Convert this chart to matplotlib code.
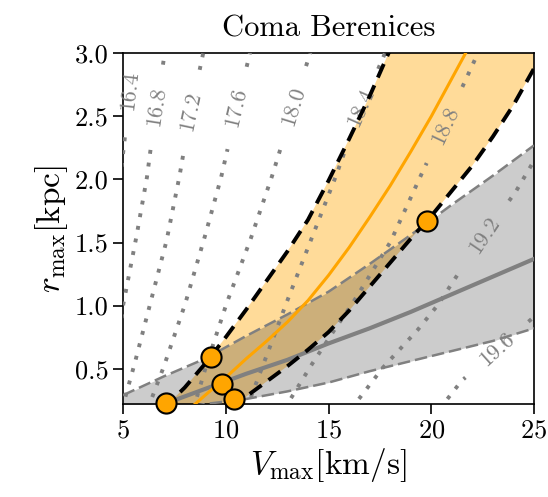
import numpy as np
import matplotlib
matplotlib.use("Agg")
from matplotlib import pyplot as plt

plt.rcParams['font.family'] = 'serif'
plt.rcParams['font.serif'] = ['cmr10']
plt.rcParams['mathtext.fontset'] = 'cm'
plt.rcParams['axes.formatter.use_mathtext'] = True

# orange band (data-driven rmax-Vmax relation)
orange_up_v = [7.0, 7.5, 8.0, 9.0, 10.0, 11.0, 12.0, 13.0, 14.0, 15.0, 16.0, 17.0, 18.0, 18.3]
orange_up_r = [0.18, 0.27, 0.35, 0.54, 0.75, 0.97, 1.20, 1.43, 1.68, 1.99, 2.32, 2.66, 3.03, 3.15]
orange_lo_v = [10.3, 11.0, 12.0, 13.0, 14.0, 15.0, 16.0, 17.0, 18.0, 19.0, 20.0, 21.0, 22.0, 23.0, 24.0, 25.0, 25.5]
orange_lo_r = [0.18, 0.28, 0.40, 0.52, 0.65, 0.79, 0.96, 1.15, 1.34, 1.53, 1.71, 1.91, 2.11, 2.34, 2.59, 2.88, 3.02]
orange_med_v = [8.3, 9.0, 10.0, 11.0, 12.0, 13.0, 14.0, 15.0, 16.0, 17.0, 18.0, 19.0, 20.0, 21.0, 22.0]
orange_med_r = [0.19, 0.29, 0.43, 0.58, 0.72, 0.87, 1.04, 1.24, 1.46, 1.70, 1.95, 2.22, 2.50, 2.80, 3.10]

# gray band
gray_v = [5, 7, 9, 11, 13, 15, 17, 19, 21, 23, 25]
gray_up_r = [0.29, 0.44, 0.58, 0.76, 0.93, 1.11, 1.33, 1.56, 1.80, 2.03, 2.27]
gray_lo_r = [0.13, 0.17, 0.22, 0.26, 0.32, 0.39, 0.48, 0.56, 0.64, 0.72, 0.82]
gray_med_r = [0.12, 0.22, 0.34, 0.46, 0.57, 0.70, 0.82, 0.95, 1.09, 1.23, 1.37]

# individual points
pts_v = [7.1, 9.3, 9.8, 10.4, 19.8]
pts_r = [0.23, 0.59, 0.38, 0.26, 1.67]

# dotted contours
contour_levels = ['16.4', '16.8', '17.2', '17.6', '18.0', '18.4', '18.8', '19.2', '19.6']
contour_v = [
    [4.85, 5.0, 5.2, 5.55, 5.62],
    [4.85, 5.0, 5.6, 6.15, 6.55, 7.03, 7.12],
    [4.95, 5.5, 6.3, 7.1, 7.72, 8.25, 8.9, 9.03],
    [6.2, 6.95, 8.0, 8.9, 9.75, 10.45, 11.17, 11.32],
    [8.42, 9.0, 10.0, 11.15, 12.2, 13.15, 14.1, 14.3],
    [11.0, 11.75, 12.9, 14.1, 15.3, 16.4, 17.75, 18.0],
    [12.85, 14.05, 15.25, 16.1, 18.0, 19.4, 20.85, 22.27, 22.55],
    [16.1, 17.6, 19.3, 20.3, 21.5, 22.75, 24.1, 25.0, 25.4],
    [20.4, 21.45, 23.2, 24.2, 25.0, 25.6],
]
contour_r = [
    [2.0, 2.2, 2.5, 3.0, 3.1],
    [0.8, 1.0, 1.5, 2.0, 2.5, 3.0, 3.1],
    [0.18, 0.5, 1.0, 1.5, 2.0, 2.5, 3.0, 3.1],
    [0.18, 0.5, 1.0, 1.5, 2.0, 2.5, 3.0, 3.1],
    [0.18, 0.5, 1.0, 1.5, 2.0, 2.5, 3.0, 3.1],
    [0.18, 0.5, 1.0, 1.5, 2.0, 2.5, 3.0, 3.1],
    [0.18, 0.5, 0.8, 1.0, 1.5, 2.0, 2.5, 3.0, 3.1],
    [0.18, 0.5, 0.8, 1.0, 1.3, 1.6, 1.9, 2.15, 2.25],
    [0.18, 0.4, 0.65, 0.8, 0.91, 1.0],
]
label_v = [5.34, 6.63, 8.3, 10.5, 13.3, 16.57, 20.66, 22.58, 23.2]
label_r = [2.70, 2.58, 2.54, 2.57, 2.58, 2.57, 2.43, 1.56, 0.65]


def dotted_contour(ax, vs, rs, lv, lr, text, gap=42):
    pix = ax.transData.transform(np.column_stack([vs, rs]))
    s = np.concatenate([[0], np.cumsum(np.hypot(*np.diff(pix, axis=0).T))])
    ss = np.linspace(0, s[-1], 800)
    dense = np.column_stack([np.interp(ss, s, pix[:, 0]), np.interp(ss, s, pix[:, 1])])
    c = ax.transData.transform((lv, lr))
    dist = np.hypot(*(dense - c).T)
    dd = ax.transData.inverted().transform(dense)
    x = np.where(dist > gap, dd[:, 0], np.nan)
    y = np.where(dist > gap, dd[:, 1], np.nan)
    ax.plot(x, y, color='gray', lw=2.8, dashes=(1, 2.3), zorder=3)
    i = np.argmin(dist)
    dx, dy = dense[min(i + 8, len(dense) - 1)] - dense[max(i - 8, 0)]
    ang = np.degrees(np.arctan2(dy, dx))
    if ang > 90:
        ang -= 180
    if ang < -90:
        ang += 180
    ax.text(lv, lr, text, rotation=ang, rotation_mode='anchor', ha='center', va='center',
            color='gray', fontsize=16, zorder=3)


fig = plt.figure(figsize=(5.48, 4.97), dpi=100)
ax = fig.add_axes([0.2245, 0.1871, 0.75, 0.7057])
ax.set_xlim(5, 25)
ax.set_ylim(0.22, 3.0)

# orange band
poly_v = np.concatenate([orange_up_v, orange_lo_v[::-1]])
poly_r = np.concatenate([orange_up_r, orange_lo_r[::-1]])
ax.fill(poly_v, poly_r, color='orange', alpha=0.4, lw=0, zorder=1)
# gray band
ax.fill_between(gray_v, gray_lo_r, gray_up_r, color='k', alpha=0.2, lw=0, zorder=1.5)

for k in range(len(contour_levels)):
    dotted_contour(ax, contour_v[k], contour_r[k], label_v[k], label_r[k], contour_levels[k])

ax.plot(gray_v, gray_up_r, color='gray', lw=1.8, dashes=(5, 2), zorder=4)
ax.plot(gray_v, gray_lo_r, color='gray', lw=1.8, dashes=(5, 2), zorder=4)
ax.plot(gray_v, gray_med_r, color='gray', lw=3, zorder=4)

ax.plot(orange_med_v, orange_med_r, color='orange', lw=2.2, zorder=5)
ax.plot(orange_up_v, orange_up_r, color='k', lw=2.8, dashes=(3.8, 2.2), zorder=5)
ax.plot(orange_lo_v, orange_lo_r, color='k', lw=2.8, dashes=(3.8, 2.2), zorder=5)

ax.plot(pts_v, pts_r, 'o', ms=14.5, mfc='orange', mec='k', mew=1.5, zorder=6, clip_on=False)

ax.set_xticks([5, 10, 15, 20, 25])
ax.set_yticks([0.5, 1.0, 1.5, 2.0, 2.5, 3.0])
ax.set_yticklabels(['0.5', '1.0', '1.5', '2.0', '2.5', '3.0'])
ax.tick_params(direction='out', length=7, width=1.2, labelsize=19)
for sp in ax.spines.values():
    sp.set_linewidth(1.2)

ax.set_title('Coma Berenices', fontsize=22, pad=12)
ax.set_xlabel(r'$V_{\rm max}[{\rm km/s}]$', fontsize=24, labelpad=3)
ax.set_ylabel(r'$r_{\rm max}[{\rm kpc}]$', fontsize=24, labelpad=3)

fig.savefig('out.png', dpi=100)
